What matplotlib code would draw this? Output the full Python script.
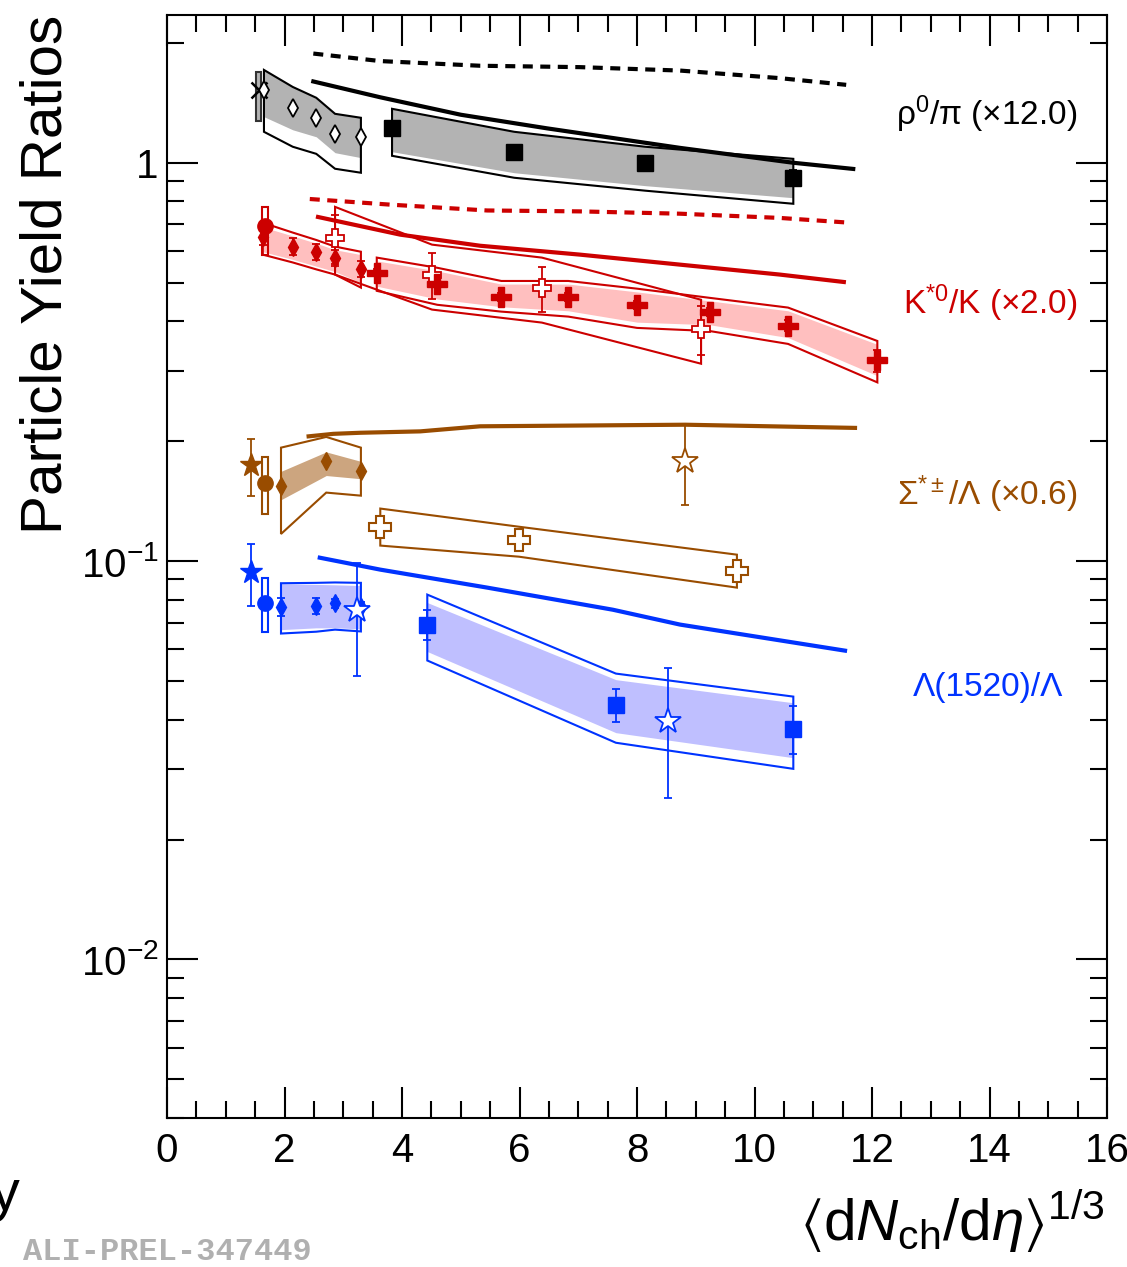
import numpy as np
import matplotlib
matplotlib.use('Agg')
import matplotlib.pyplot as plt
from matplotlib.ticker import MultipleLocator, LogLocator, FixedLocator, FixedFormatter, NullFormatter

plt.rcParams['font.family'] = ['Liberation Sans', 'DejaVu Sans']
plt.rcParams['mathtext.fontset'] = 'custom'
plt.rcParams['mathtext.rm'] = 'Liberation Sans'
plt.rcParams['mathtext.it'] = 'Liberation Sans:italic'
plt.rcParams['mathtext.default'] = 'regular'

BLACK = 'black'
RED = '#cc0000'
BROWN = '#994c00'
BLUE = '#0033ff'

# ---- rho0/pi (x12) ----
rho_dash_x = [2.49, 3.63, 5.33, 7.03, 8.73, 10.43, 11.56]
rho_dash_y = [1.88, 1.80, 1.752, 1.738, 1.704, 1.631, 1.569]
rho_line_x = [2.49, 3.63, 5.0, 6.47, 8.73, 10.66, 11.68]
rho_line_y = [1.60, 1.46, 1.32, 1.22, 1.09, 1.0, 0.965]

rho_pp_x, rho_pp_y = 1.56, 1.525
rho_pp_sys = (1.27, 1.69)

rho_ppb_x = [1.65, 2.14, 2.54, 2.86, 3.30]
rho_ppb_y = [1.52, 1.374, 1.297, 1.18, 1.162]
rho_ppb_hi = [1.71, 1.55, 1.456, 1.327, 1.297]
rho_ppb_lo = [1.196, 1.097, 1.053, 0.966, 0.944]
rho_ppb_fill_lo = [1.305, 1.21, 1.162, 1.06, 1.03]

rho_pb_x = [3.83, 5.91, 8.14, 10.66]
rho_pb_y = [1.224, 1.066, 1.0, 0.917]
rho_pb_err = [0.03, 0.035, 0.025, 0.04]
rho_pb_hi = [1.366, 1.196, 1.097, 1.023]
rho_pb_lo = [1.041, 0.917, 0.851, 0.789]
rho_pb_fill_lo = [1.066, 0.944, 0.876, 0.817]

# ---- K*0/K (x2) ----
ks_dash_x = [2.43, 3.80, 5.45, 7.03, 8.73, 10.43, 11.57]
ks_dash_y = [0.811, 0.785, 0.759, 0.755, 0.745, 0.727, 0.708]
ks_line_x = [2.57, 3.97, 5.33, 7.03, 8.73, 10.43, 11.52]
ks_line_y = [0.731, 0.660, 0.619, 0.588, 0.555, 0.524, 0.502]

ks_pp_x, ks_pp_y = 1.67, 0.695
ks_pp_sys = (0.588, 0.775)

ks_ppb_x = [1.63, 2.14, 2.54, 2.86, 3.30]
ks_ppb_y = [0.652, 0.616, 0.598, 0.578, 0.542]
ks_ppb_err = [0.03, 0.03, 0.028, 0.027, 0.025]
ks_ppb_hi = [0.707, 0.668, 0.640, 0.616, 0.598]
ks_ppb_lo = [0.588, 0.562, 0.540, 0.524, 0.486]
ks_ppb_fill_hi = [0.69, 0.655, 0.628, 0.605, 0.588]
ks_ppb_fill_lo = [0.598, 0.572, 0.55, 0.533, 0.50]

ks_xe_x = [2.86, 4.51, 6.38, 9.09]
ks_xe_y = [0.648, 0.524, 0.486, 0.383]
ks_xe_err = [0.09, 0.07, 0.063, 0.053]
ks_xe_hi = [0.775, 0.623, 0.578, 0.453]
ks_xe_lo = [0.524, 0.428, 0.397, 0.313]

ks_pb_x = [3.57, 4.60, 5.69, 6.83, 8.00, 9.24, 10.57, 12.09]
ks_pb_y = [0.530, 0.497, 0.461, 0.461, 0.440, 0.423, 0.390, 0.319]
ks_pb_err = [0.01, 0.01, 0.01, 0.01, 0.01, 0.01, 0.012, 0.02]
ks_pb_hi = [0.578, 0.545, 0.505, 0.505, 0.483, 0.458, 0.433, 0.357]
ks_pb_lo = [0.477, 0.440, 0.423, 0.411, 0.385, 0.378, 0.351, 0.281]
ks_pb_fill_hi = [0.567, 0.535, 0.496, 0.496, 0.474, 0.45, 0.425, 0.35]
ks_pb_fill_lo = [0.49, 0.455, 0.435, 0.425, 0.398, 0.392, 0.364, 0.292]

# ---- Sigma*/Lambda (x0.6) ----
sig_line_x = [2.41, 2.83, 3.29, 4.31, 5.33, 8.82, 11.71]
sig_line_y = [0.2057, 0.2087, 0.210, 0.2117, 0.218, 0.220, 0.216]

sig_star_x, sig_star_y, sig_star_err = 1.43, 0.174, 0.028
sig_pp_x, sig_pp_y = 1.67, 0.157
sig_pp_sys = (0.1316, 0.183)

sig_ppb_x = [1.94, 2.71, 3.30]
sig_ppb_y = [0.1546, 0.178, 0.1687]
sig_ppb_hi = [0.1927, 0.205, 0.1927]
sig_ppb_lo = [0.117, 0.1486, 0.146]
sig_ppb_fill_hi = [0.168, 0.188, 0.178]
sig_ppb_fill_lo = [0.1426, 0.164, 0.161]

sig_open_star_x, sig_open_star_y = 8.82, 0.178
sig_open_star_err = ([0.040], [0.043])

sig_pb_x = [3.63, 5.99, 9.70]
sig_pb_y = [0.122, 0.1132, 0.0946]
sig_pb_hi = [0.1355, 0.122, 0.1038]
sig_pb_lo = [0.1094, 0.1026, 0.0858]

# ---- Lambda(1520)/Lambda ----
lam_line_x = [2.60, 3.63, 5.45, 7.59, 8.73, 11.54]
lam_line_y = [0.102, 0.0952, 0.0858, 0.0755, 0.0693, 0.0596]

lam_star_x, lam_star_y = 1.43, 0.0941
lam_star_err = ([0.017], [0.016])
lam_pp_x, lam_pp_y = 1.67, 0.0787
lam_pp_sys = (0.0662, 0.0909)

lam_ppb_x = [1.94, 2.54, 2.86, 3.30]
lam_ppb_y = [0.0769, 0.0773, 0.0784, 0.0769]
lam_ppb_err = [0.004, 0.0035, 0.002, 0.002]
lam_ppb_hi = [0.0880, 0.0882, 0.0884, 0.0882]
lam_ppb_lo = [0.0658, 0.0665, 0.0673, 0.0666]
lam_ppb_fill_hi = [0.0878, 0.0874, 0.0872, 0.0868]
lam_ppb_fill_lo = [0.0673, 0.0680, 0.0680, 0.0676]

lam_ostar1_x, lam_ostar1_y = 3.23, 0.0755
lam_ostar1_err = ([0.024], [0.0235])
lam_ostar2_x, lam_ostar2_y = 8.53, 0.0396
lam_ostar2_err = ([0.0142], [0.0144])

lam_pb_x = [4.43, 7.64, 10.66]
lam_pb_y = [0.0693, 0.0436, 0.038]
lam_pb_err = [0.006, 0.0042, 0.0052]
lam_pb_hi = [0.0824, 0.0522, 0.0457]
lam_pb_lo = [0.0563, 0.035, 0.0301]
lam_pb_fill_hi = [0.0787, 0.0504, 0.0441]
lam_pb_fill_lo = [0.0593, 0.0371, 0.0321]

labels = [r'ρ$^{0}$/π (×12.0)', r'K$^{*0}$/K (×2.0)', r'Σ$^{*\pm}$/Λ (×0.6)', 'Λ(1520)/Λ']
label_y = [1.32, 0.443, 0.147, 0.0481]
label_x = [15.49, 15.49, 15.49, 15.25]
label_colors = [BLACK, RED, BROWN, BLUE]


fig = plt.figure(figsize=(11.27, 12.67), dpi=100)
ax = fig.add_axes([0.1482, 0.1176, 0.8341, 0.8706])
ax.set_yscale('log')
ax.set_xlim(0, 16)
ax.set_ylim(0.004, 2.35)


def outline(x, lo, hi, color, lw=1.5):
    x = np.asarray(x)
    ax.fill(np.r_[x, x[::-1]], np.r_[hi, lo[::-1]], facecolor='none',
            edgecolor=color, lw=lw, zorder=3)


def sysbox(x, lo_hi, color, face='none', half=0.045):
    lo, hi = lo_hi
    ax.fill([x - half, x + half, x + half, x - half], [lo, lo, hi, hi],
            facecolor=face, edgecolor=color, lw=1.5, zorder=4)


# filled bands
ax.fill_between(rho_ppb_x, rho_ppb_fill_lo, rho_ppb_hi, color='#b3b3b3', lw=0, zorder=2)
ax.fill_between(rho_pb_x, rho_pb_fill_lo, rho_pb_hi, color='#b3b3b3', lw=0, zorder=2)
ax.fill_between(ks_ppb_x, ks_ppb_fill_lo, ks_ppb_fill_hi, color='#ffbfbf', lw=0, zorder=2)
ax.fill_between(ks_pb_x, ks_pb_fill_lo, ks_pb_fill_hi, color='#ffbfbf', lw=0, zorder=2)
ax.fill_between(sig_ppb_x, sig_ppb_fill_lo, sig_ppb_fill_hi, color='#cca57f', lw=0, zorder=2)
ax.fill_between(lam_ppb_x, lam_ppb_fill_lo, lam_ppb_fill_hi, color='#bfbfff', lw=0, zorder=2)
ax.fill_between(lam_pb_x, lam_pb_fill_lo, lam_pb_fill_hi, color='#bfbfff', lw=0, zorder=2)

# systematic outlines
outline(rho_ppb_x, rho_ppb_lo, rho_ppb_hi, BLACK)
outline(rho_pb_x, rho_pb_lo, rho_pb_hi, BLACK)
outline(ks_ppb_x, ks_ppb_lo, ks_ppb_hi, RED)
outline(ks_xe_x, ks_xe_lo, ks_xe_hi, RED)
outline(ks_pb_x, ks_pb_lo, ks_pb_hi, RED)
outline(sig_ppb_x, sig_ppb_lo, sig_ppb_hi, BROWN)
outline(sig_pb_x, sig_pb_lo, sig_pb_hi, BROWN)
outline(lam_ppb_x, lam_ppb_lo, lam_ppb_hi, BLUE)
outline(lam_pb_x, lam_pb_lo, lam_pb_hi, BLUE)

sysbox(rho_pp_x, rho_pp_sys, '#333333', face='#b3b3b3')
sysbox(ks_pp_x, ks_pp_sys, RED)
sysbox(sig_pp_x, sig_pp_sys, BROWN)
sysbox(lam_pp_x, lam_pp_sys, BLUE)

# model curves
dash = (0, (2.4, 1.8))
ax.plot(rho_dash_x, rho_dash_y, color=BLACK, lw=3, ls=dash, zorder=5)
ax.plot(rho_line_x, rho_line_y, color=BLACK, lw=3, zorder=5)
ax.plot(ks_dash_x, ks_dash_y, color=RED, lw=3, ls=dash, zorder=5)
ax.plot(ks_line_x, ks_line_y, color=RED, lw=3, zorder=5)
ax.plot(sig_line_x, sig_line_y, color=BROWN, lw=3, zorder=5)
ax.plot(lam_line_x, lam_line_y, color=BLUE, lw=3, zorder=5)

eb = dict(ls='none', elinewidth=1.3, capsize=3, capthick=1.3, zorder=6)

# rho0/pi points
ax.plot(rho_pp_x, rho_pp_y, 'x', color=BLACK, ms=11, mew=1.8, zorder=6)
ax.plot(rho_ppb_x, rho_ppb_y, 'd', mfc='white', mec=BLACK, ms=9, mew=1.3, ls='none', zorder=6)
ax.errorbar(rho_pb_x, rho_pb_y, yerr=rho_pb_err, fmt='s', color=BLACK, ms=11, **eb)

# K*0/K points
ax.plot(ks_pp_x, ks_pp_y, 'o', color=RED, ms=11, zorder=6)
ax.errorbar(ks_ppb_x, ks_ppb_y, yerr=ks_ppb_err, fmt='d', color=RED, ms=9, **eb)
ax.errorbar(ks_xe_x, ks_xe_y, yerr=ks_xe_err, fmt='P', color=RED, mfc='white', mec=RED,
            ms=13, mew=1.3, **eb)
ax.errorbar(ks_pb_x, ks_pb_y, yerr=ks_pb_err, fmt='P', color=RED, ms=15, **eb)

# Sigma*/Lambda points
ax.errorbar(sig_star_x, sig_star_y, yerr=sig_star_err, fmt='*', color=BROWN, ms=17, **eb)
ax.plot(sig_pp_x, sig_pp_y, 'o', color=BROWN, ms=11, zorder=6)
ax.plot(sig_ppb_x, sig_ppb_y, 'd', color=BROWN, ms=9, ls='none', zorder=6)
ax.errorbar(sig_open_star_x, sig_open_star_y, yerr=sig_open_star_err, fmt='*', color=BROWN,
            mfc='white', mec=BROWN, ms=19, mew=1.3, **eb)
ax.plot(sig_pb_x, sig_pb_y, 'P', mfc='white', mec=BROWN, ms=16, mew=1.5, ls='none', zorder=6)

# Lambda(1520)/Lambda points
ax.errorbar(lam_star_x, lam_star_y, yerr=lam_star_err, fmt='*', color=BLUE, ms=17, **eb)
ax.plot(lam_pp_x, lam_pp_y, 'o', color=BLUE, ms=11, zorder=6)
ax.errorbar(lam_ppb_x, lam_ppb_y, yerr=lam_ppb_err, fmt='d', color=BLUE, ms=9, **eb)
ax.errorbar(lam_ostar1_x, lam_ostar1_y, yerr=lam_ostar1_err, fmt='*', color=BLUE,
            mfc='white', mec=BLUE, ms=19, mew=1.3, **eb)
ax.errorbar(lam_ostar2_x, lam_ostar2_y, yerr=lam_ostar2_err, fmt='*', color=BLUE,
            mfc='white', mec=BLUE, ms=19, mew=1.3, **eb)
ax.errorbar(lam_pb_x, lam_pb_y, yerr=lam_pb_err, fmt='s', color=BLUE, ms=11, **eb)

for txt, lx, ly, c in zip(labels, label_x, label_y, label_colors):
    ax.text(lx, ly, txt, color=c, fontsize=24, ha='right', va='center', zorder=7)

# axes styling
for s in ax.spines.values():
    s.set_linewidth(1.5)
ax.xaxis.set_major_locator(MultipleLocator(2))
ax.xaxis.set_minor_locator(MultipleLocator(0.5))
ax.yaxis.set_major_locator(FixedLocator([0.01, 0.1, 1]))
ax.yaxis.set_major_formatter(FixedFormatter(['$10^{-2}$', '$10^{-1}$', '1']))
ax.yaxis.set_minor_locator(LogLocator(base=10, subs=np.arange(2, 10)))
ax.yaxis.set_minor_formatter(NullFormatter())
ax.tick_params(which='both', direction='in', top=True, right=True, width=1.5)
ax.tick_params(which='major', length=22)
ax.tick_params(which='minor', length=12)
ax.tick_params(axis='x', labelsize=29, pad=10)
ax.tick_params(axis='y', labelsize=29, pad=6)

fig.text(0.0417, 0.988, 'Particle Yield Ratios', rotation=90, ha='center', va='top', fontsize=42)
fig.text(0.9805, 0.0213, r'$\langle$d$\mathit{N}_{\rm ch}$/d$\mathit{\eta}\rangle^{1/3}$',
         ha='right', va='baseline', fontsize=42)
fig.text(0.018, 0.045, 'Preliminary', ha='right', va='baseline', fontsize=42)
fig.text(0.02, 0.0, 'ALI-PREL-347449', family='Liberation Mono', weight='bold',
         color='#b0b0b0', fontsize=23, ha='left', va='bottom')

fig.savefig('out.png', dpi=100)
